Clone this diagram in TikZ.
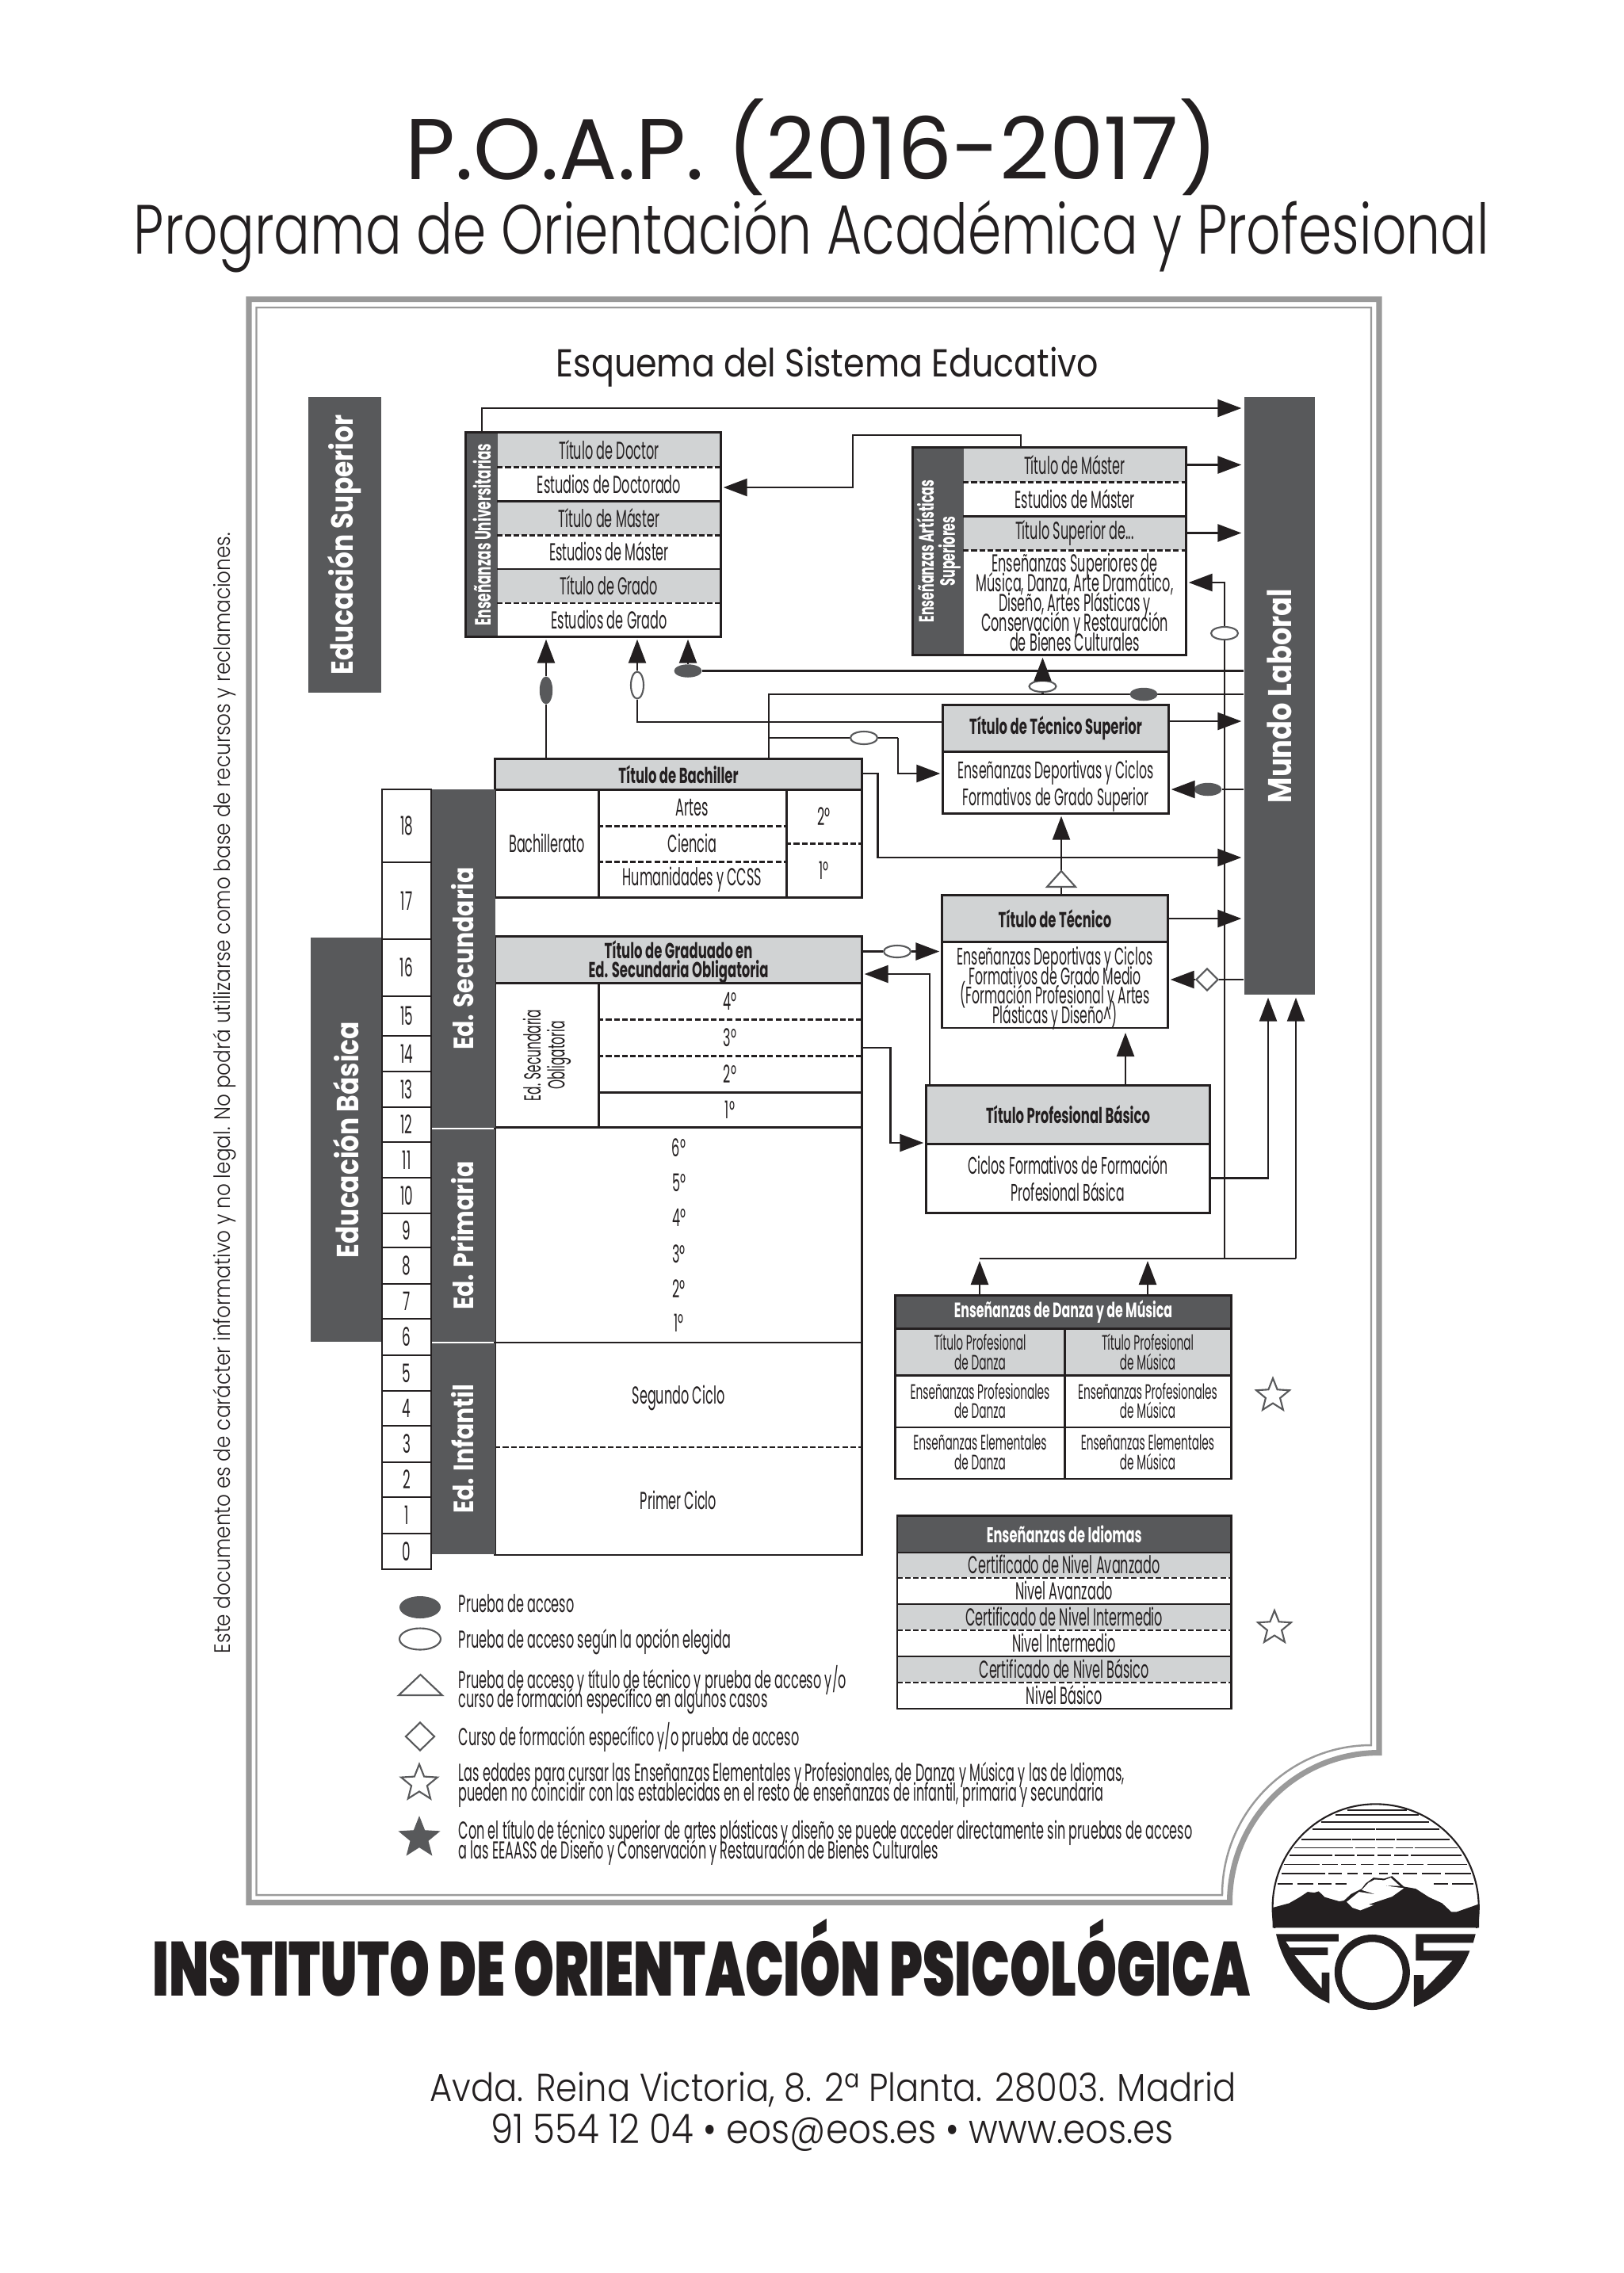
\documentclass[tikz,border=0pt]{standalone}
\usepackage{fontspec}
\usetikzlibrary{arrows.meta,shapes.geometric}
\setmainfont{Poppins}
\newfontfamily\lightfont{Poppins Light}
\newfontfamily\subtitlefont[FakeStretch=0.773]{Poppins Light}
\newfontfamily\addressfont[FakeStretch=0.88]{Poppins Light}
\newfontfamily\schemefont[FakeStretch=0.87]{Poppins}
\newfontfamily\narrowfont[FakeStretch=0.52]{Poppins}
\newfontfamily\narrowboldfont[FakeStretch=0.6]{Poppins}
\newfontfamily\widefont[FakeStretch=0.85]{Poppins}
\newfontfamily\heavyfont[FakeStretch=0.67]{Poppins Black}
\definecolor{ink}{HTML}{231F20}
\definecolor{darkbar}{HTML}{58595B}
\definecolor{graycell}{HTML}{D1D3D4}
\definecolor{framegray}{HTML}{9A9A9A}
\lineskiplimit=-100pt
\tikzset{
  boxline/.style={draw=ink,line width=0.7pt},
  dashline/.style={draw=ink,line width=0.7pt,dash pattern=on 2pt off 0.9pt},
  flow/.style={draw=ink,line width=0.72pt,-{Triangle[length=0.30cm,width=0.22cm]},shorten >=0.03cm},
  plain/.style={draw=ink,line width=0.72pt},
  cell/.style={inner sep=0pt,align=center,text=ink,font=\narrowfont\fontsize{8.8}{9.4}\selectfont},
  cellg/.style={cell,fill=graycell},
  cellw/.style={cell,fill=white},
  titcell/.style={cellg,font=\narrowboldfont\bfseries\fontsize{7.8}{6.9}\selectfont},
  darkcol/.style={fill=darkbar,inner sep=0pt},
  barlabel/.style={rotate=90,inner sep=0pt,text=white,font=\widefont\bfseries\fontsize{11}{12}\selectfont},
  collabel/.style={barlabel,font=\widefont\bfseries\fontsize{10}{11}\selectfont},
  sidelabel/.style={rotate=90,inner sep=0pt,text=white,align=center,font=\narrowboldfont\bfseries\fontsize{7.5}{7.6}\selectfont},
  agecell/.style={cell,fill=white,minimum width=0.615cm,draw=ink,line width=0.7pt,font=\narrowfont\fontsize{9.2}{10}\selectfont},
  unirow/.style={minimum width=2.81cm,minimum height=0.43cm},
  artrow/.style={minimum width=2.80cm,minimum height=0.43cm},
  danrow/.style={font=\narrowfont\fontsize{7.5}{7}\selectfont},
  idirow/.style={minimum width=4.205cm,minimum height=0.33cm},
  legend/.style={cell,anchor=west,align=left,font=\narrowfont\fontsize{8.8}{7}\selectfont},
  opdark/.style={ellipse,fill=darkbar,inner sep=0pt,minimum width=0.35cm,minimum height=0.165cm},
  opwhite/.style={ellipse,fill=white,draw=darkbar,line width=0.6pt,inner sep=0pt,minimum width=0.34cm,minimum height=0.16cm},
  opstar/.style={star,star points=5,star point ratio=2.3,draw=darkbar,line width=0.6pt,fill=white,inner sep=0pt,minimum size=0.44cm}
}
\begin{document}
\begin{tikzpicture}[x=1cm,y=-1cm]
  \useasboundingbox (0,0) rectangle (20.48,28.68);
  % heading
  \node[text=ink,inner sep=0pt,font=\fontsize{31}{34}\selectfont] (maintitle) at (10.24,1.86) {P.O.A.P. (2016-2017)};
  \node[text=ink,inner sep=0pt,font=\subtitlefont\fontsize{25}{28}\selectfont] (subtitle) at (10.24,2.98) {Programa de Orientación Académica y Profesional};
  \node[text=ink,inner sep=0pt,font=\schemefont\fontsize{14}{16}\selectfont] (schemetitle) at (10.44,4.63) {Esquema del Sistema Educativo};
  \node[rotate=90,text=ink,inner sep=0pt,font=\addressfont\fontsize{8}{9}\selectfont] (sidenote) at (2.83,13.79) {Este documento es de carácter informativo y no legal. No podrá utilizarse como base de recursos y reclamaciones.};

  % frame
  \draw[framegray,line width=2pt] (3.14,3.775)--(17.40,3.775)--(17.40,22.115)
    .. controls (16.36,22.115) and (15.515,22.96) .. (15.515,24.005)--(3.14,24.005)--cycle;
  \draw[framegray,line width=0.7pt] (3.235,3.88)--(17.30,3.88)--(17.30,22.02)
    .. controls (16.26,22.02) and (15.42,22.87) .. (15.42,23.91)--(3.235,23.91)--cycle;

  % long bars
  \node[darkcol,minimum width=0.92cm,minimum height=3.73cm] (barsuperior) at (4.35,6.875) {};
  \node[barlabel] (barsuperiortxt) at (barsuperior) {Educación Superior};
  \node[darkcol,minimum width=0.90cm,minimum height=5.10cm] (barbasica) at (4.37,14.38) {};
  \node[barlabel] (barbasicatxt) at (barbasica) {Educación Básica};
  \node[darkcol,minimum width=0.89cm,minimum height=7.54cm] (mundo) at (16.145,8.78) {};
  \node[barlabel,font=\widefont\bfseries\fontsize{11.8}{12}\selectfont] (mundotxt) at (mundo) {Mundo Laboral};

  % universitarias
  \node[darkcol,minimum width=0.40cm,minimum height=2.57cm] (uniside) at (6.08,6.745) {};
  \node[sidelabel,font=\narrowboldfont\bfseries\fontsize{8}{8}\selectfont] (unisidetxt) at (uniside) {Enseñanzas Universitarias};
  \node[cellg,unirow] (unidoctor) at (7.685,5.675) {Título de Doctor};
  \node[cellw,unirow] (uniestdoc) at (7.685,6.105) {Estudios de Doctorado};
  \node[cellg,unirow] (unimaster) at (7.685,6.535) {Título de Máster};
  \node[cellw,unirow] (uniestmas) at (7.685,6.96) {Estudios de Máster};
  \node[cellg,unirow] (unigrado) at (7.685,7.39) {Título de Grado};
  \node[cellw,unirow] (uniestgra) at (7.685,7.815) {Estudios de Grado};
  \draw[dashline] (unidoctor.south west)--(unidoctor.south east) (unimaster.south west)--(unimaster.south east) (unigrado.south west)--(unigrado.south east);
  \draw[boxline] (uniestdoc.south west)--(uniestdoc.south east) (uniestmas.south west)--(uniestmas.south east);
  \draw[boxline] (uniside.north west) rectangle (uniestgra.south east);

  % artisticas
  \node[darkcol,minimum width=0.64cm,minimum height=2.61cm] (artside) at (11.84,6.955) {};
  \node[sidelabel] (artsidetxt) at (artside) {Enseñanzas Artísticas\\Superiores};
  \node[cellg,artrow] (artmaster) at (13.56,5.865) {Título de Máster};
  \node[cellw,artrow] (artestmas) at (13.56,6.295) {Estudios de Máster};
  \node[cellg,artrow] (artsuperior) at (13.56,6.725) {Título Superior de...};
  \node[cellw,minimum width=2.80cm,minimum height=1.32cm,font=\narrowfont\fontsize{8.8}{7.1}\selectfont] (artplain) at (13.56,7.60)
    {Enseñanzas Superiores de\\Música, Danza, Arte Dramático,\\Diseño, Artes Plásticas y\\Conservación y Restauración\\de Bienes Culturales};
  \draw[dashline] (artmaster.south west)--(artmaster.south east) (artsuperior.south west)--(artsuperior.south east);
  \draw[boxline] (artestmas.south west)--(artestmas.south east);
  \draw[boxline] (artside.north west) rectangle (artplain.south east);

  % tecnico superior
  \node[titcell,minimum width=2.84cm,minimum height=0.58cm] (tsuptit) at (13.32,9.19) {Título de Técnico Superior};
  \node[cellw,minimum width=2.84cm,minimum height=0.78cm] (tsupplain) at (13.32,9.87) {};
  \node[cell,font=\narrowfont\fontsize{8.6}{9.7}\selectfont] (tsupplaintxt) at (13.32,9.92) {Enseñanzas Deportivas y Ciclos\\Formativos de Grado Superior};
  \draw[boxline] (tsuptit.north west) rectangle (tsupplain.south east) (tsuptit.south west)--(tsuptit.south east);

  % tecnico
  \node[titcell,minimum width=2.84cm,minimum height=0.575cm] (tectit) at (13.31,11.59) {Título de Técnico};
  \node[cellw,minimum width=2.84cm,minimum height=1.085cm] (tecplain) at (13.31,12.42) {};
  \node[cell,font=\narrowfont\fontsize{8.6}{7}\selectfont] (tecplaintxt) at (13.31,12.47)
    {Enseñanzas Deportivas y Ciclos\\Formativos de Grado Medio\\(Formación Profesional y Artes\\Plásticas y Diseño\^{})};
  \draw[boxline] (tectit.north west) rectangle (tecplain.south east) (tectit.south west)--(tectit.south east);

  % profesional basico
  \node[titcell,minimum width=3.57cm,minimum height=0.73cm] (basicotit) at (13.475,14.065) {Título Profesional Básico};
  \node[cellw,minimum width=3.57cm,minimum height=0.87cm,font=\narrowfont\fontsize{8.6}{9.7}\selectfont] (basicoplain) at (13.475,14.865) {Ciclos Formativos de Formación\\Profesional Básica};
  \draw[boxline] (basicotit.north west) rectangle (basicoplain.south east) (basicotit.south west)--(basicotit.south east);

  % bachiller
  \node[titcell,minimum width=4.62cm,minimum height=0.375cm] (bachtit) at (8.56,9.77) {Título de Bachiller};
  \node[cellw,minimum width=1.30cm,minimum height=1.365cm] (bachname) at (6.90,10.64) {Bachillerato};
  \node[cellw,minimum width=2.37cm,minimum height=0.455cm] (bachartes) at (8.735,10.19) {Artes};
  \node[cellw,minimum width=2.37cm,minimum height=0.455cm] (bachciencia) at (8.735,10.64) {Ciencia};
  \node[cellw,minimum width=2.37cm,minimum height=0.455cm] (bachhuman) at (8.735,11.10) {Humanidades y CCSS};
  \node[cellw,minimum width=0.95cm,minimum height=0.68cm] (bachsecond) at (10.395,10.30) {2º};
  \node[cellw,minimum width=0.95cm,minimum height=0.68cm] (bachfirst) at (10.395,10.98) {1º};
  \draw[dashline] (bachartes.south west)--(bachartes.south east) (bachciencia.south west)--(bachciencia.south east) (bachsecond.south west)--(bachsecond.south east);
  \draw[boxline] (bachtit.north west) rectangle (bachfirst.south east) (bachtit.south west)--(bachtit.south east) (bachname.north east)--(bachname.south east) (bachartes.north east)--(bachhuman.south east);

  % graduado y eso
  \node[titcell,minimum width=4.62cm,minimum height=0.58cm] (gradtit) at (8.56,12.11) {};
  \node[cell,font=\narrowboldfont\bfseries\fontsize{7.8}{6.9}\selectfont] (gradtittxt) at (8.56,12.14) {Título de Graduado en\\Ed. Secundaria Obligatoria};
  \node[cell,fill=white,minimum width=1.30cm,minimum height=1.83cm] (esoname) at (6.90,13.315) {};
  \node[cell,rotate=90,font=\narrowfont\fontsize{8.4}{8.6}\selectfont] (esonametxt) at (esoname) {Ed. Secundaria\\Obligatoria};
  \node[cellw,minimum width=3.32cm,minimum height=0.46cm] (esofour) at (9.21,12.63) {4º};
  \node[cellw,minimum width=3.32cm,minimum height=0.46cm] (esothree) at (9.21,13.09) {3º};
  \node[cellw,minimum width=3.32cm,minimum height=0.46cm] (esotwo) at (9.21,13.55) {2º};
  \node[cellw,minimum width=3.32cm,minimum height=0.45cm] (esoone) at (9.21,14.005) {1º};
  \draw[dashline] (esofour.south west)--(esofour.south east) (esothree.south west)--(esothree.south east);
  \draw[boxline] (gradtit.north west) rectangle (esoone.south east) (gradtit.south west)--(gradtit.south east) (esotwo.south west)--(esotwo.south east) (esoname.north east)--(esoname.south east);

  % primaria e infantil
  \node[cellw,minimum width=4.62cm,minimum height=2.70cm] (primaria) at (8.56,15.58) {};
  \node[cell] (prim6) at (8.566,14.48) {6º};
  \node[cell] (prim5) at (8.566,14.92) {5º};
  \node[cell] (prim4) at (8.566,15.36) {4º};
  \node[cell] (prim3) at (8.566,15.82) {3º};
  \node[cell] (prim2) at (8.566,16.26) {2º};
  \node[cell] (prim1) at (8.566,16.69) {1º};
  \node[cellw,minimum width=4.62cm,minimum height=1.32cm] (infsecond) at (8.56,17.59) {};
  \node[cell] (infsecondtxt) at (8.56,17.64) {Segundo Ciclo};
  \node[cellw,minimum width=4.62cm,minimum height=1.36cm] (inffirst) at (8.56,18.93) {Primer Ciclo};
  \draw[dashline] (infsecond.south west)--(infsecond.south east);
  \draw[boxline] (primaria.north west) rectangle (inffirst.south east) (primaria.south west)--(primaria.south east);

  % dark columns
  \node[darkcol,minimum width=0.815cm,minimum height=4.27cm] (colsec) at (5.84,12.095) {};
  \node[collabel] (colsectxt) at (colsec) {Ed. Secundaria};
  \node[darkcol,minimum width=0.815cm,minimum height=2.68cm] (colpri) at (5.84,15.59) {};
  \node[collabel] (colpritxt) at (colpri) {Ed. Primaria};
  \node[darkcol,minimum width=0.815cm,minimum height=2.66cm] (colinf) at (5.84,18.28) {};
  \node[collabel] (colinftxt) at (colinf) {Ed. Infantil};

  % ages
  \node[agecell,minimum height=0.92cm] (age18) at (5.13,10.42) {18};
  \node[agecell,minimum height=0.97cm] (age17) at (5.13,11.365) {17};
  \node[agecell,minimum height=0.72cm] (age16) at (5.13,12.21) {16};
  \node[agecell,minimum height=0.50cm] (age15) at (5.13,12.82) {15};
  \node[agecell,minimum height=0.45cm] (age14) at (5.13,13.295) {14};
  \node[agecell,minimum height=0.45cm] (age13) at (5.13,13.745) {13};
  \node[agecell,minimum height=0.44cm] (age12) at (5.13,14.19) {12};
  \node[agecell,minimum height=0.45cm] (age11) at (5.13,14.635) {11};
  \node[agecell,minimum height=0.45cm] (age10) at (5.13,15.085) {10};
  \node[agecell,minimum height=0.43cm] (age9) at (5.13,15.525) {9};
  \node[agecell,minimum height=0.46cm] (age8) at (5.13,15.97) {8};
  \node[agecell,minimum height=0.44cm] (age7) at (5.13,16.42) {7};
  \node[agecell,minimum height=0.46cm] (age6) at (5.13,16.87) {6};
  \node[agecell,minimum height=0.45cm] (age5) at (5.13,17.325) {5};
  \node[agecell,minimum height=0.44cm] (age4) at (5.13,17.77) {4};
  \node[agecell,minimum height=0.46cm] (age3) at (5.13,18.22) {3};
  \node[agecell,minimum height=0.44cm] (age2) at (5.13,18.67) {2};
  \node[agecell,minimum height=0.46cm] (age1) at (5.13,19.12) {1};
  \node[agecell,minimum height=0.45cm] (age0) at (5.13,19.575) {0};

  % danza y musica
  \node[cell,fill=darkbar,text=white,minimum width=4.23cm,minimum height=0.41cm,font=\narrowboldfont\bfseries\fontsize{7.5}{8}\selectfont] (dantit) at (13.415,16.555) {Enseñanzas de Danza y de Música};
  \node[cellg,danrow,minimum width=2.13cm,minimum height=0.59cm] (dantitd) at (12.365,17.055) {Título Profesional\\de Danza};
  \node[cellg,danrow,minimum width=2.10cm,minimum height=0.59cm] (dantitm) at (14.48,17.055) {Título Profesional\\de Música};
  \node[cellw,danrow,minimum width=2.13cm,minimum height=0.65cm] (danprod) at (12.365,17.675) {Enseñanzas Profesionales\\de Danza};
  \node[cellw,danrow,minimum width=2.10cm,minimum height=0.65cm] (danprom) at (14.48,17.675) {Enseñanzas Profesionales\\de Música};
  \node[cellw,danrow,minimum width=2.13cm,minimum height=0.65cm] (daneled) at (12.365,18.325) {Enseñanzas Elementales\\de Danza};
  \node[cellw,danrow,minimum width=2.10cm,minimum height=0.65cm] (danelem) at (14.48,18.325) {Enseñanzas Elementales\\de Música};
  \draw[boxline] (dantit.north west) rectangle (danelem.south east) (dantit.south west)--(dantit.south east) (dantitd.south west)--(dantitm.south east) (danprod.south west)--(danprom.south east) (dantitd.north east)--(daneled.south east);
  \node[opstar] (danstar) at (16.06,17.61) {};

  % idiomas
  \node[cell,fill=darkbar,text=white,minimum width=4.205cm,minimum height=0.45cm,font=\narrowboldfont\bfseries\fontsize{7.7}{8}\selectfont] (iditit) at (13.4275,19.355) {Enseñanzas de Idiomas};
  \node[cellg,idirow] (idicertav) at (13.4275,19.74) {Certificado de Nivel Avanzado};
  \node[cellw,idirow] (idiav) at (13.4275,20.065) {Nivel Avanzado};
  \node[cellg,idirow] (idicertin) at (13.4275,20.395) {Certificado de Nivel Intermedio};
  \node[cellw,idirow] (idiin) at (13.4275,20.725) {Nivel Intermedio};
  \node[cellg,idirow] (idicertba) at (13.4275,21.055) {Certificado de Nivel Básico};
  \node[cellw,idirow] (idiba) at (13.4275,21.39) {Nivel Básico};
  \draw[dashline] (idicertav.south west)--(idicertav.south east) (idicertin.south west)--(idicertin.south east) (idicertba.south west)--(idicertba.south east);
  \draw[boxline] (iditit.north west) rectangle (idiba.south east) (iditit.south west)--(iditit.south east) (idiav.south west)--(idiav.south east) (idiin.south west)--(idiin.south east);
  \node[opstar] (idistar) at (16.08,20.54) {};

  % free ends of the connectors
  \coordinate (toprun) at (6.08,5.15);
  \coordinate (artup) at (12.88,5.49);
  \coordinate (artdown) at (10.76,5.49);
  \coordinate (artleft) at (10.76,6.15);
  \coordinate (rightbus) at (15.45,15.88);
  \coordinate (righttop) at (15.45,7.35);
  \coordinate (runleft) at (12.36,15.88);
  \coordinate (runmid) at (14.48,15.88);
  \coordinate (runright) at (16.35,15.88);
  \coordinate (basicup) at (16.00,14.865);
  \coordinate (tecup) at (14.20,13.00);
  \coordinate (gradback) at (11.73,12.29);
  \coordinate (esoout) at (11.235,13.22);
  \coordinate (esoin) at (11.235,14.42);
  \coordinate (bachup) at (9.70,8.76);
  \coordinate (bachbranch) at (9.70,9.31);
  \coordinate (branchdown) at (11.33,9.31);
  \coordinate (branchin) at (11.33,9.76);
  \coordinate (bachright) at (11.075,9.76);
  \coordinate (bachlow) at (11.075,10.82);
  \coordinate (tsupin) at (8.04,9.11);
  \coordinate (tsupout) at (14.74,9.10);
  \coordinate (triup) at (13.39,10.99);

  % connectors
  \draw[flow] (uniside.north)--(toprun)--(toprun -| mundo.west);
  \draw[flow] (artup |- artmaster.north)--(artup)--(artdown)--(artleft)--(artleft -| uniestdoc.east);
  \draw[flow] (artmaster.east)--(artmaster.east -| mundo.west);
  \draw[flow] (artsuperior.east)--(artsuperior.east -| mundo.west);
  \draw[flow] (rightbus)--(righttop)--(righttop -| artplain.east);
  \draw[plain] (runleft)--(runright);
  \draw[flow] (dantit.north -| runleft)--(runleft);
  \draw[flow] (dantit.north -| runmid)--(runmid);
  \draw[flow] (runright)--(runright |- mundo.south);
  \draw[flow] (basicoplain.east)--(basicup)--(basicup |- mundo.south);
  \draw[flow] (basicotit.north -| tecup)--(tecup);
  \draw[flow] (basicotit.north -| gradback)--(gradback)--(gradback -| gradtit.east);
  \draw[flow] (esoout -| esothree.east)--(esoout)--(esoin)--(esoin -| basicotit.west);
  \draw[flow] (tectit.east)--(tectit.east -| mundo.west);
  \draw[flow] (tsupout)--(tsupout -| mundo.west);
  \draw[flow] (bachright -| bachtit.east)--(bachright)--(bachlow)--(bachlow -| mundo.west);
  \draw[flow] (tectit.north -| triup)--(triup |- tsupplain.south);
  \draw[plain] (bachtit.north -| bachup)--(bachup)--(bachup -| mundo.west);
  \draw[plain] (bachbranch)--(branchdown);
  \draw[flow] (branchdown)--(branchin)--(branchin -| tsupplain.west);

  % test marks on the connectors
  \node[opwhite,rotate=90] (opuni) at (8.04,8.645) {};
  \draw[plain] (tsupin -| tsuptit.west)--(tsupin)--(opuni);
  \draw[flow] (opuni)--(opuni |- uniestgra.south);
  \node[opdark,rotate=90] (opbach) at (6.89,8.71) {};
  \draw[plain] (bachtit.north -| opbach)--(opbach);
  \draw[flow] (opbach)--(opbach |- uniestgra.south);
  \node[opdark] (opmund) at (8.68,8.465) {};
  \draw[plain] (mundo.west |- opmund)--(opmund);
  \draw[flow] (opmund)--(opmund |- uniestgra.south);
  \node[opwhite,minimum height=0.14cm] (opart) at (13.155,8.66) {};
  \draw[plain] (opart)--(opart |- bachup);
  \draw[flow] (opart)--(opart |- artplain.south);
  \node[opdark] (opbar) at (14.43,8.76) {};
  \node[opwhite] (opbranch) at (10.90,9.31) {};
  \node[opwhite] (opright) at (15.45,7.99) {};
  \node[opdark] (opsup) at (15.24,9.96) {};
  \draw[plain] (mundo.west |- opsup)--(opsup);
  \draw[flow] (opsup)--(opsup -| tsupplain.east);
  \node[opwhite,minimum height=0.15cm] (opgrad) at (11.32,12.005) {};
  \draw[plain] (opgrad -| gradtit.east)--(opgrad);
  \draw[flow] (opgrad)--(opgrad -| tecplain.west);
  \node[diamond,draw=darkbar,line width=0.6pt,fill=white,inner sep=0pt,minimum width=0.28cm,minimum height=0.28cm] (opdiam) at (15.23,12.36) {};
  \draw[plain] (mundo.west |- opdiam)--(opdiam.east);
  \draw[flow] (opdiam.west)--(opdiam -| tecplain.east);
  \draw[draw=darkbar,line width=0.6pt,fill=white] (13.21,11.19)--(13.57,11.19)--(13.39,10.99)--cycle;

  % legend
  \node[opdark,minimum width=0.52cm,minimum height=0.28cm] (legdark) at (5.30,20.28) {};
  \node[opwhite,minimum width=0.52cm,minimum height=0.27cm] (legwhite) at (5.30,20.68) {};
  \draw[draw=darkbar,line width=0.6pt] (5.03,21.39)--(5.58,21.39)--(5.305,21.13)--cycle;
  \node[diamond,draw=darkbar,line width=0.6pt,inner sep=0pt,minimum width=0.37cm,minimum height=0.36cm] (legdiam) at (5.30,21.91) {};
  \node[opstar,minimum size=0.48cm] (legstar) at (5.29,22.50) {};
  \node[opstar,fill=darkbar,minimum size=0.50cm] (legstarfull) at (5.29,23.19) {};
  \node[legend] (legtxta) at (5.78,20.23) {Prueba de acceso};
  \node[legend] (legtxtb) at (5.78,20.71) {Prueba de acceso según la opción elegida};
  \node[legend] (legtxtc) at (5.78,21.32) {Prueba de acceso y título de técnico y prueba de acceso y/o\\curso de formación específico en algunos casos};
  \node[legend] (legtxtd) at (5.78,21.92) {Curso de formación específico y/o prueba de acceso};
  \node[legend] (legtxte) at (5.78,22.52) {Las edades para cursar las Enseñanzas Elementales y Profesionales, de Danza y Música y las de Idiomas,\\pueden no coincidir con las establecidas en el resto de enseñanzas de infantil, primaria y secundaria};
  \node[legend] (legtxtf) at (5.78,23.25) {Con el título de técnico superior de artes plásticas y diseño se puede acceder directamente sin pruebas de acceso\\a las EEAASS de Diseño y Conservación  y Restauración de Bienes Culturales};

  % footer
  \node[text=ink,inner sep=0pt,font=\heavyfont\fontsize{27.5}{30}\selectfont] (institute) at (8.85,24.70) {INSTITUTO DE ORIENTACIÓN PSICOLÓGICA};
  \node[text=ink,inner sep=0pt,font=\addressfont\fontsize{14}{15.6}\selectfont] (addressone) at (10.51,26.37) {Avda. Reina Victoria, 8. 2ª Planta. 28003. Madrid};
  \node[text=ink,inner sep=0pt,font=\addressfont\fontsize{14.6}{15.6}\selectfont] (addresstwo) at (10.50,26.91) {91 554 12 04 • eos@eos.es • www.eos.es};

  % logo
  \begin{scope}[shift={(15.90,22.70)},x=0.003333cm,y=-0.003333cm]
    \begin{scope}
      \clip (0,0) rectangle (900,488);
      \draw[ink,line width=0.6pt] (438,410) circle[radius=391];
    \end{scope}
    \fill[ink] (47,412)--(110,395)--(150,372)--(180,352)--(205,355)--(222,350)--(245,372)--(300,388)--(318,385)--(345,360)--(385,340)--(400,320)--(430,298)--(470,302)--(500,292)--(545,332)--(590,340)--(640,372)--(690,395)--(725,428)--(745,428)--(830,398)--(830,488)--(47,488)--cycle;
    \fill[white] (328,390)--(375,352)--(440,362)--(385,345)--(410,318)--(435,305)--(470,308)--(495,298)--(530,330)--(470,328)--(545,338)--(500,370)--(410,400)--(430,402)--(380,422)--(350,412)--cycle;
    \draw[ink,line width=0.5pt] (330,42)--(555,42) (285,60)--(600,60) (230,88)--(640,88)
      (198,115)--(435,115) (438,115)--(680,115)
      (155,153)--(345,153) (350,153)--(435,153) (440,153)--(512,153) (518,153)--(720,153)
      (130,185)--(352,185) (360,185)--(435,185) (445,185)--(505,185) (515,185)--(580,185) (585,185)--(748,185)
      (110,213)--(275,213) (283,213)--(358,213) (368,213)--(432,213) (445,213)--(497,213) (508,213)--(562,213) (572,213)--(765,213)
      (90,248)--(225,248) (235,248)--(295,248) (308,248)--(365,248) (382,248)--(430,248) (448,248)--(490,248) (505,248)--(545,248) (555,248)--(620,248) (635,248)--(785,248)
      (80,282)--(245,282) (258,282)--(310,282) (330,282)--(370,282) (392,282)--(425,282) (450,282)--(485,282) (500,282)--(525,282) (540,282)--(595,282) (612,282)--(685,282) (700,282)--(800,282)
      (65,322)--(123,322) (140,322)--(200,322) (220,322)--(270,322) (285,322)--(328,322) (658,322)--(712,322) (728,322)--(810,322);
    \fill[ink] (60,512)--(297,512)--(297,540)--(97,540)--(112,563)--(257,563)--(257,592)--(130,592)--(233,718)--(233,658)--(263,658)--(263,775)
      .. controls (165,735) and (90,640) .. cycle;
    \fill[ink,even odd rule] (425,657) circle[radius=143] (425,657) circle[radius=115];
    \fill[ink] (590,512)--(817,512)--(808,545)--(620,545)--(620,575)--(795,575)
      .. controls (760,670) and (680,750) .. (583,788)--(583,668)--(620,668)--(620,725)--(730,612)--(590,612)--cycle;
  \end{scope}
\end{tikzpicture}
\end{document}
